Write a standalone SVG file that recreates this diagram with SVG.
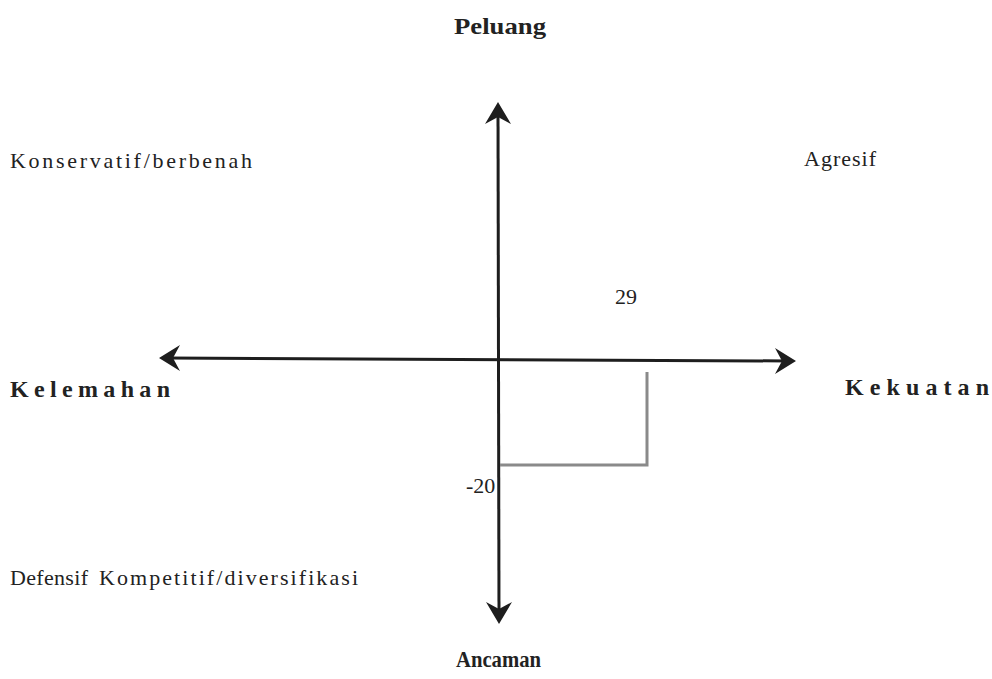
<svg xmlns="http://www.w3.org/2000/svg" width="992" height="679" viewBox="0 0 992 679">
<style>
.t{font-family:"Liberation Serif","Times New Roman",serif;font-size:22px;fill:#222}
.b{font-family:"Liberation Serif","Times New Roman",serif;font-size:24px;font-weight:bold;fill:#222}
.ax{stroke:#1e1e1e;stroke-width:3;fill:none}
.ah{fill:#1e1e1e}
.gr{stroke:#8a8a8a;stroke-width:3;fill:none}
</style>
<rect width="992" height="679" fill="#fff"/>
<g id="connectors">
<line class="ax" x1="498" y1="110" x2="499" y2="617"/>
<line class="ax" x1="168" y1="358" x2="788" y2="361"/>
<path class="ah" d="M498,102 L511,124 L498,117 L485,124 Z"/>
<path class="ah" d="M499,624 L486,602 L499,609 L512,602 Z"/>
<path class="ah" d="M159,358 L180,345 L173,358 L180,371 Z"/>
<path class="ah" d="M796,361 L775,348 L782,361 L775,374 Z"/>
<polyline class="gr" points="647,372 647,465 500,465"/>
</g>
<g id="peluang"><text class="b" x="454" y="34" textLength="92" lengthAdjust="spacingAndGlyphs">Peluang</text></g>
<g id="ancaman"><text class="b" x="456" y="667" textLength="85" lengthAdjust="spacingAndGlyphs">Ancaman</text></g>
<g id="kelemahan"><text class="b" x="10" y="397" textLength="160" lengthAdjust="spacing">Kelemahan</text></g>
<g id="kekuatan"><text class="b" x="845" y="395" textLength="144" lengthAdjust="spacing">Kekuatan</text></g>
<g id="konservatif"><text class="t" x="10" y="168" textLength="242" lengthAdjust="spacing">Konservatif/berbenah</text></g>
<g id="agresif"><text class="t" x="804" y="166" textLength="72" lengthAdjust="spacing">Agresif</text></g>
<g id="v29"><text class="t" x="615" y="304">29</text></g>
<g id="vm20"><text class="t" x="466" y="493">-20</text></g>
<g id="defensif"><text class="t" x="10" y="585" textLength="78" lengthAdjust="spacing">Defensif</text></g>
<g id="kompetitif"><text class="t" x="99" y="585" textLength="259" lengthAdjust="spacing">Kompetitif/diversifikasi</text></g>
</svg>
